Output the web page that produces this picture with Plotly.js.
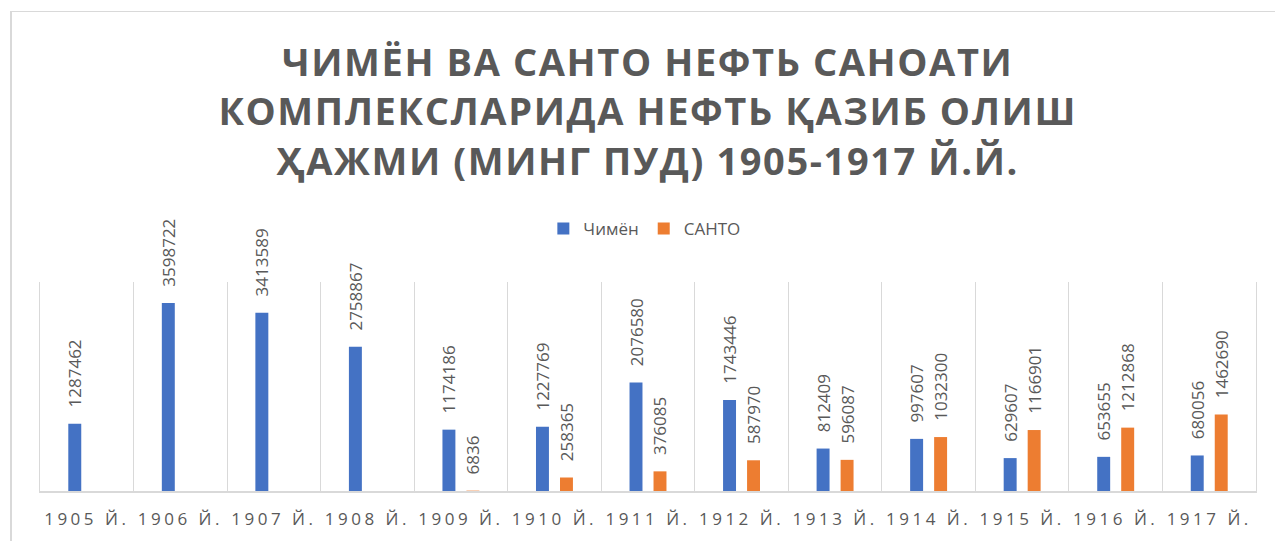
<!DOCTYPE html>
<html>
<head>
<meta charset="utf-8">
<script src="https://cdn.plot.ly/plotly-3.0.1.min.js"></script>
<style>
  html, body { margin: 0; padding: 0; background: #fff; }
  #wrap { position: relative; width: 1275px; height: 541px; overflow: hidden; }
  #frame { position: absolute; left: 10px; top: 11px; width: 1300px; height: 600px;
           border-top: 1px solid #d9d9d9; border-left: 2px solid #d9d9d9; pointer-events: none; }
  #chart { position: absolute; left: 0; top: 0; width: 1275px; height: 541px; }
  .gtitle { letter-spacing: 1.6px; }
  .xtick text { letter-spacing: 3.5px; }
</style>
</head>
<body>
<div id="wrap">
  <div id="chart"></div>
  <div id="frame"></div>
</div>
<script>
const years = ["1905 Й.", "1906 Й.", "1907 Й.", "1908 Й.", "1909 Й.", "1910 Й.", "1911 Й.",
               "1912 Й.", "1913 Й.", "1914 Й.", "1915 Й.", "1916 Й.", "1917 Й."];
const chimion = [1287462, 3598722, 3413589, 2758867, 1174186, 1227769, 2076580,
                 1743446, 812409, 997607, 629607, 653655, 680056];
const santo = [null, null, null, null, 6836, 258365, 376085,
               587970, 596087, 1032300, 1166901, 1212868, 1462690];

const labelFont = { family: "Open Sans, sans-serif", size: 17, color: "#595959" };
const pre = "\u00a0\u00a0\u00a0";

const traces = [
  {
    type: "bar", name: "Чимён", x: years, y: chimion,
    marker: { color: "#4472C4" },
    text: chimion.map(v => v == null ? "" : pre + v),
    textposition: "outside", textangle: -90, constraintext: "none",
    cliponaxis: false, textfont: labelFont, hoverinfo: "x+y"
  },
  {
    type: "bar", name: "САНТО", x: years, y: santo,
    marker: { color: "#ED7D31" },
    text: santo.map(v => v == null ? "" : pre + v),
    textposition: "outside", textangle: -90, constraintext: "none",
    cliponaxis: false, textfont: labelFont, hoverinfo: "x+y"
  }
];

const layout = {
  width: 1275, height: 541,
  margin: { l: 40, r: 19, t: 282, b: 50 },
  paper_bgcolor: "rgba(0,0,0,0)", plot_bgcolor: "rgba(0,0,0,0)",
  barmode: "group", bargap: 0.487, bargroupgap: 0.46,
  title: {
    text: "ЧИМЁН ВА САНТО НЕФТЬ САНОАТИ<br>КОМПЛЕКСЛАРИДА НЕФТЬ ҚАЗИБ ОЛИШ<br>ҲАЖМИ (МИНГ ПУД) 1905-1917 Й.Й.",
    font: { family: "Open Sans, sans-serif", size: 38, color: "#595959", weight: 700 },
    x: 0.508, xanchor: "center", xref: "container",
    y: 1 - 76 / 541, yanchor: "top", yref: "container"
  },
  showlegend: true,
  legend: {
    orientation: "h", x: 0.497, xanchor: "center", y: 1 + 53 / 209, yanchor: "middle",
    font: { family: "Open Sans, sans-serif", size: 17, color: "#595959" },
    itemwidth: 30, traceorder: "normal"
  },
  xaxis: {
    type: "category", tickson: "boundaries", showgrid: true, gridcolor: "#d9d9d9", gridwidth: 1,
    showline: true, linecolor: "#d9d9d9", linewidth: 2, ticks: "", zeroline: false,
    tickfont: { family: "Open Sans, sans-serif", size: 17, color: "#595959" },
    ticklabelstandoff: 12
  },
  yaxis: {
    range: [0, 4000000], showgrid: false, zeroline: false, showticklabels: false,
    showline: true, mirror: true, linecolor: "#d9d9d9", linewidth: 1, ticks: ""
  },
  font: { family: "Open Sans, sans-serif", color: "#595959" }
};

Plotly.newPlot("chart", traces, layout, { displayModeBar: false, staticPlot: true });
</script>
</body>
</html>
